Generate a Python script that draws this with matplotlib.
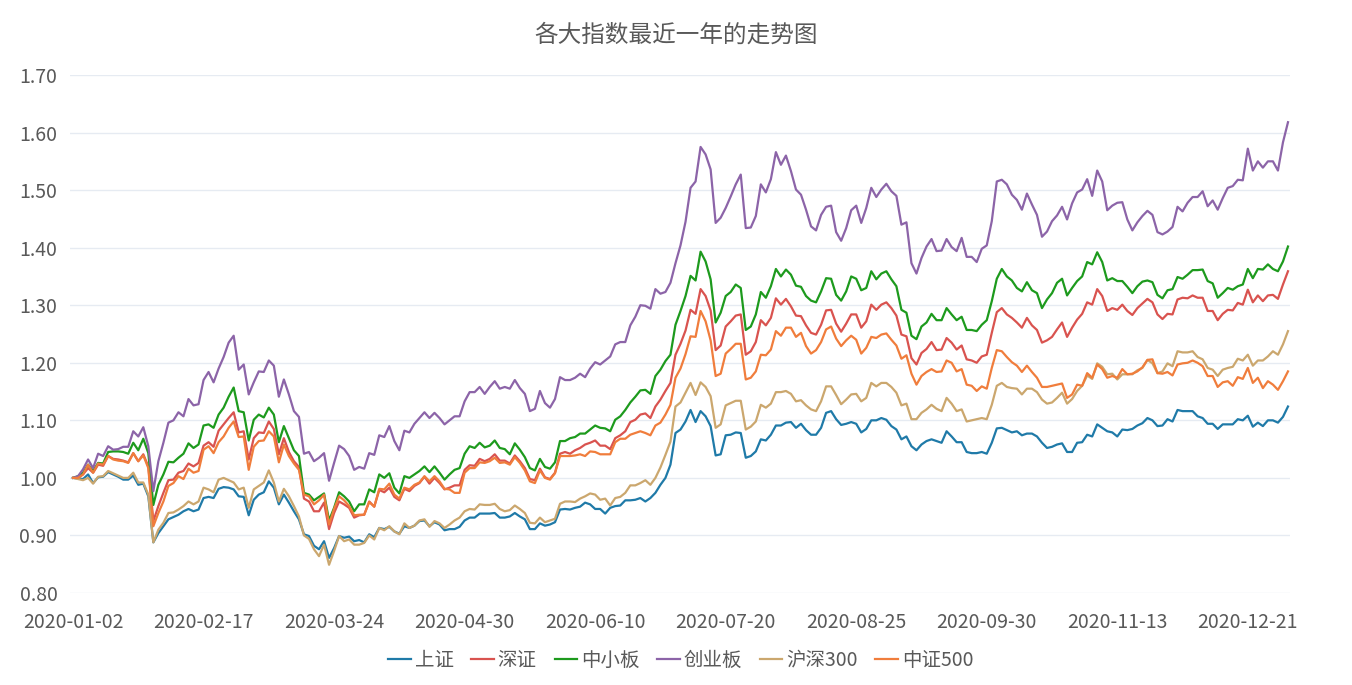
import numpy as np
import matplotlib
matplotlib.use("Agg")
import matplotlib.pyplot as plt

plt.rcParams["font.family"] = ["Noto Sans CJK SC", "DejaVu Sans"]

# normalised closing values, one per trading day of 2020
shangzheng = [
    1.000, 0.999, 0.998, 1.006, 0.991, 1.001, 1.002, 1.010, 1.006, 1.002, 0.997, 0.997, 1.004, 0.988, 0.990, 0.968, 0.888, 0.904, 0.916, 0.928, 0.932, 0.936, 0.942, 0.946, 0.942, 0.945, 0.965, 0.967, 0.965, 0.981,
    0.984, 0.983, 0.980, 0.968, 0.967, 0.935, 0.962, 0.971, 0.975, 0.994, 0.983, 0.954, 0.971, 0.957, 0.942, 0.928, 0.902, 0.899, 0.882, 0.876, 0.890, 0.861, 0.878, 0.899, 0.896, 0.898, 0.890, 0.892, 0.888, 0.902, 0.897,
    0.913, 0.911, 0.915, 0.907, 0.903, 0.916, 0.913, 0.917, 0.925, 0.926, 0.916, 0.923, 0.919, 0.909, 0.911, 0.911, 0.915, 0.926, 0.931, 0.931, 0.938, 0.938, 0.938, 0.939, 0.931, 0.931, 0.933, 0.939, 0.933,
    0.928,
    0.911, 0.911, 0.921, 0.917, 0.919, 0.923, 0.945, 0.946, 0.945, 0.948, 0.950, 0.957,
    0.954, 0.946, 0.946, 0.938, 0.948, 0.951, 0.952, 0.961, 0.961, 0.962, 0.965, 0.959, 0.965, 0.974, 0.988,
    1.000, 1.023, 1.078, 1.084, 1.098, 1.118, 1.097, 1.116,
    1.107, 1.090, 1.039, 1.041, 1.074, 1.075, 1.079, 1.078, 1.035, 1.038, 1.046, 1.067, 1.065, 1.075, 1.091, 1.091, 1.096, 1.097, 1.087, 1.094, 1.083, 1.075, 1.075, 1.087, 1.113, 1.116, 1.102, 1.092,
    1.094, 1.097, 1.094, 1.079, 1.085, 1.100, 1.100, 1.104, 1.101, 1.090, 1.084, 1.067, 1.072, 1.055, 1.048, 1.058, 1.064, 1.067, 1.064, 1.061, 1.081, 1.072, 1.062, 1.062, 1.045, 1.043, 1.043, 1.045, 1.042,
    1.061, 1.086,
    1.087, 1.083, 1.079, 1.081, 1.074, 1.077, 1.077, 1.072, 1.061, 1.052, 1.054, 1.058, 1.060, 1.045, 1.045, 1.061, 1.062, 1.075, 1.072, 1.093, 1.087, 1.081, 1.079, 1.072, 1.084, 1.083, 1.085, 1.091, 1.095, 1.104,
    1.100, 1.090, 1.091, 1.102, 1.098, 1.118, 1.116, 1.116, 1.116, 1.107, 1.104, 1.094, 1.094, 1.085, 1.093, 1.093, 1.093, 1.102, 1.100, 1.108, 1.089, 1.096, 1.090, 1.100, 1.100, 1.096, 1.106, 1.124,
]

shenzheng = [
    1.000, 1.000, 1.006, 1.017, 1.009, 1.023, 1.021, 1.038, 1.033, 1.032, 1.030, 1.027, 1.043, 1.029, 1.041, 1.020, 0.925, 0.951, 0.974, 0.996, 0.997, 1.009, 1.012, 1.025, 1.020, 1.026, 1.056, 1.062, 1.054, 1.082,
    1.093, 1.104, 1.114, 1.079, 1.081, 1.032, 1.069, 1.079, 1.078, 1.098, 1.085, 1.041, 1.069, 1.045, 1.029, 1.019, 0.964, 0.959, 0.942, 0.942, 0.957, 0.911, 0.939, 0.959, 0.954, 0.948, 0.931, 0.935, 0.936, 0.959, 0.950,
    0.979, 0.975, 0.983, 0.967, 0.961, 0.981, 0.977, 0.986, 0.991, 1.002, 0.990, 1.000, 0.991, 0.980, 0.983, 0.987, 0.987, 1.014, 1.022, 1.021, 1.033, 1.029, 1.033, 1.041, 1.030, 1.030, 1.025, 1.039, 1.029,
    1.017,
    0.998, 0.996, 1.016, 1.001, 0.998, 1.009, 1.042, 1.045, 1.042, 1.048, 1.052, 1.058,
    1.061, 1.065, 1.056, 1.056, 1.050, 1.069, 1.074, 1.081, 1.097, 1.101, 1.110, 1.112, 1.104, 1.124, 1.136, 1.151, 1.165, 1.214, 1.233, 1.256, 1.292, 1.285, 1.328,
    1.316, 1.291, 1.222, 1.230, 1.263, 1.272, 1.282, 1.284, 1.214, 1.220, 1.236, 1.274, 1.265, 1.278, 1.312, 1.301, 1.311, 1.298, 1.282, 1.281, 1.265, 1.252, 1.249, 1.266, 1.291, 1.292, 1.268, 1.254,
    1.268, 1.284, 1.284, 1.261, 1.272, 1.301, 1.292, 1.301, 1.305, 1.295, 1.282, 1.249, 1.246, 1.208, 1.197, 1.217, 1.224, 1.236, 1.222, 1.223, 1.243, 1.235, 1.223, 1.230, 1.206, 1.204, 1.200, 1.211, 1.214,
    1.252, 1.288,
    1.295, 1.284, 1.278, 1.270, 1.261, 1.278, 1.265, 1.257, 1.235, 1.239, 1.245, 1.258, 1.270, 1.245, 1.261, 1.275, 1.285, 1.305, 1.301, 1.328, 1.316, 1.290, 1.295, 1.292, 1.301, 1.290, 1.283, 1.295, 1.303, 1.311,
    1.305, 1.284, 1.276, 1.285, 1.284, 1.310, 1.313, 1.312, 1.317, 1.313, 1.313, 1.290, 1.290, 1.274, 1.285, 1.292, 1.291, 1.304, 1.301, 1.327, 1.305, 1.317, 1.307, 1.317, 1.318, 1.311, 1.336, 1.359,
]

zhongxiaoban = [
    1.000, 1.003, 1.009, 1.023, 1.012, 1.026, 1.025, 1.045, 1.046, 1.046, 1.045, 1.042, 1.061, 1.048, 1.068, 1.043, 0.953, 0.988, 1.006, 1.028, 1.027, 1.035, 1.042, 1.060, 1.052, 1.058, 1.091, 1.093, 1.087, 1.110,
    1.122, 1.141, 1.157, 1.116, 1.114, 1.065, 1.101, 1.110, 1.105, 1.122, 1.110, 1.062, 1.090, 1.069, 1.048, 1.038, 0.974, 0.971, 0.961, 0.967, 0.973, 0.926, 0.948, 0.975, 0.968, 0.959, 0.942, 0.954, 0.954, 0.980, 0.975,
    1.006, 1.000, 1.008, 0.983, 0.973, 1.003, 1.000, 1.006, 1.012, 1.020, 1.010, 1.020, 1.009, 0.997, 1.006, 1.014, 1.017, 1.042, 1.055, 1.052, 1.061, 1.053, 1.056, 1.065, 1.052, 1.050, 1.041, 1.060, 1.049,
    1.036,
    1.017, 1.013, 1.033, 1.019, 1.016, 1.027, 1.064, 1.064, 1.069, 1.071, 1.077, 1.077,
    1.084, 1.091, 1.087, 1.086, 1.081, 1.101, 1.107, 1.118, 1.131, 1.141, 1.152, 1.153, 1.146, 1.177, 1.188, 1.203, 1.214, 1.266, 1.290, 1.316, 1.351, 1.343, 1.393,
    1.376, 1.345, 1.270, 1.287, 1.316, 1.323, 1.336, 1.330, 1.257, 1.263, 1.284, 1.323, 1.313, 1.333, 1.363, 1.350, 1.362, 1.353, 1.334, 1.332, 1.316, 1.308, 1.305, 1.324, 1.347, 1.346, 1.318, 1.308,
    1.324, 1.350, 1.346, 1.326, 1.330, 1.359, 1.345, 1.355, 1.359, 1.345, 1.333, 1.292, 1.287, 1.247, 1.241, 1.263, 1.270, 1.285, 1.274, 1.274, 1.295, 1.284, 1.274, 1.280, 1.257, 1.257, 1.255, 1.266, 1.274,
    1.307, 1.346,
    1.363, 1.350, 1.343, 1.330, 1.324, 1.340, 1.326, 1.321, 1.295, 1.310, 1.321, 1.339, 1.346, 1.317, 1.330, 1.342, 1.350, 1.375, 1.371, 1.392, 1.375, 1.343, 1.347, 1.342, 1.342, 1.332, 1.321, 1.333, 1.341, 1.343,
    1.340, 1.318, 1.312, 1.326, 1.328, 1.349, 1.346, 1.353, 1.361, 1.361, 1.362, 1.342, 1.338, 1.313, 1.321, 1.330, 1.327, 1.333, 1.336, 1.363, 1.347, 1.363, 1.362, 1.371, 1.363, 1.359, 1.376, 1.402,
]

chuangyeban = [
    1.000, 1.003, 1.015, 1.032, 1.017, 1.042, 1.038, 1.055, 1.049, 1.050, 1.054, 1.054, 1.081, 1.072, 1.088, 1.055, 0.977, 1.029, 1.061, 1.096, 1.100, 1.114, 1.107, 1.137, 1.126, 1.128, 1.170, 1.184, 1.166, 1.190,
    1.210, 1.235, 1.247, 1.188, 1.197, 1.145, 1.166, 1.185, 1.184, 1.204, 1.195, 1.141, 1.171, 1.145, 1.116, 1.106, 1.042, 1.045, 1.029, 1.035, 1.043, 0.995, 1.026, 1.056, 1.050, 1.038, 1.014, 1.019, 1.016, 1.043, 1.040,
    1.074, 1.071, 1.090, 1.064, 1.048, 1.082, 1.079, 1.094, 1.104, 1.114, 1.104, 1.113, 1.104, 1.093, 1.100, 1.107, 1.107, 1.133, 1.149, 1.149, 1.158, 1.146, 1.158, 1.168, 1.155, 1.158, 1.155, 1.170, 1.156,
    1.146,
    1.116, 1.120, 1.151, 1.130, 1.122, 1.137, 1.175, 1.170, 1.170, 1.174, 1.181, 1.175,
    1.190, 1.201, 1.197, 1.204, 1.211, 1.232, 1.236, 1.236, 1.265, 1.280, 1.300, 1.299, 1.294, 1.328, 1.320, 1.323, 1.339, 1.373, 1.404, 1.445, 1.504, 1.515, 1.575,
    1.562, 1.536, 1.443, 1.452, 1.469, 1.489, 1.510, 1.527, 1.434, 1.435, 1.455, 1.510, 1.496, 1.519, 1.566, 1.544, 1.560, 1.533, 1.501, 1.492, 1.466, 1.437, 1.430, 1.457, 1.471, 1.473, 1.427, 1.412,
    1.434, 1.465, 1.473, 1.443, 1.469, 1.504, 1.488, 1.501, 1.511, 1.498, 1.490, 1.440, 1.444, 1.373, 1.355, 1.382, 1.402, 1.415, 1.394, 1.395, 1.415, 1.401, 1.394, 1.417, 1.384, 1.384, 1.375, 1.398, 1.404,
    1.446, 1.515,
    1.518, 1.510, 1.492, 1.483, 1.466, 1.494, 1.475, 1.457, 1.419, 1.428, 1.446, 1.456, 1.471, 1.449, 1.477, 1.496, 1.501, 1.519, 1.490, 1.534, 1.515, 1.465, 1.473, 1.478, 1.479, 1.449, 1.430, 1.444, 1.455, 1.464,
    1.457, 1.427, 1.423, 1.428, 1.436, 1.471, 1.463, 1.478, 1.488, 1.488, 1.498, 1.472, 1.482, 1.466, 1.486, 1.504, 1.507, 1.518, 1.517, 1.572, 1.534, 1.550, 1.539, 1.550, 1.550, 1.534, 1.583, 1.618,
]

hs300 = [
    1.000, 0.998, 0.996, 1.000, 0.990, 1.002, 1.003, 1.012, 1.008, 1.004, 1.000, 1.000, 1.009, 0.992, 0.992, 0.971, 0.888, 0.910, 0.922, 0.939, 0.940, 0.945, 0.951, 0.959, 0.954, 0.959, 0.983, 0.980, 0.975, 0.997,
    1.000, 0.996, 0.992, 0.980, 0.983, 0.948, 0.980, 0.986, 0.992, 1.013, 0.992, 0.959, 0.981, 0.968, 0.951, 0.933, 0.900, 0.894, 0.876, 0.864, 0.884, 0.849, 0.873, 0.899, 0.890, 0.893, 0.884, 0.884, 0.887, 0.900, 0.893,
    0.913, 0.909, 0.916, 0.907, 0.902, 0.921, 0.913, 0.917, 0.926, 0.928, 0.915, 0.925, 0.921, 0.913, 0.919, 0.926, 0.931, 0.942, 0.946, 0.945, 0.954, 0.953, 0.953, 0.955, 0.946, 0.942, 0.944, 0.952, 0.946,
    0.939,
    0.922, 0.921, 0.931, 0.923, 0.926, 0.929, 0.955, 0.959, 0.959, 0.958, 0.964, 0.968,
    0.973, 0.971, 0.962, 0.964, 0.952, 0.965, 0.967, 0.974, 0.987, 0.987, 0.991, 0.996, 0.988,
    1.000, 1.018, 1.040, 1.063, 1.124, 1.131, 1.148, 1.165, 1.144, 1.166,
    1.158, 1.142, 1.087, 1.093, 1.126, 1.130, 1.134, 1.134, 1.084, 1.089, 1.098, 1.127, 1.122, 1.129, 1.149, 1.149, 1.151, 1.146, 1.133, 1.135, 1.126, 1.119, 1.116, 1.133, 1.159, 1.159, 1.144, 1.128,
    1.136, 1.145, 1.146, 1.133, 1.139, 1.165, 1.159, 1.165, 1.165, 1.158, 1.148, 1.126, 1.129, 1.102, 1.102, 1.113, 1.119, 1.127, 1.120, 1.116, 1.139, 1.129, 1.116, 1.119, 1.098, 1.100, 1.102, 1.104, 1.102,
    1.127, 1.160,
    1.165, 1.158, 1.156, 1.155, 1.145, 1.155, 1.155, 1.149, 1.136, 1.129, 1.131, 1.139, 1.148, 1.129, 1.137, 1.151, 1.160, 1.178, 1.172, 1.199, 1.193, 1.180, 1.181, 1.171, 1.180, 1.180, 1.180, 1.187, 1.191, 1.205,
    1.199, 1.182, 1.185, 1.199, 1.194, 1.220, 1.218, 1.218, 1.220, 1.210, 1.206, 1.191, 1.188, 1.177, 1.188, 1.191, 1.193, 1.207, 1.204, 1.214, 1.195, 1.204, 1.204, 1.211, 1.220, 1.214, 1.232, 1.255,
]

zz500 = [
    1.000, 1.000, 1.006, 1.023, 1.009, 1.025, 1.023, 1.038, 1.032, 1.030, 1.029, 1.026, 1.043, 1.029, 1.039, 1.017, 0.916, 0.939, 0.959, 0.986, 0.991, 1.003, 0.998, 1.016, 1.009, 1.012, 1.049, 1.055, 1.043, 1.062,
    1.072, 1.087, 1.098, 1.071, 1.072, 1.014, 1.054, 1.064, 1.065, 1.081, 1.072, 1.027, 1.058, 1.038, 1.025, 1.014, 0.971, 0.968, 0.954, 0.961, 0.971, 0.919, 0.946, 0.968, 0.961, 0.951, 0.935, 0.936, 0.936, 0.958, 0.950,
    0.981, 0.980, 0.990, 0.971, 0.964, 0.983, 0.980, 0.988, 0.992, 1.003, 0.994, 1.003, 0.994, 0.981, 0.980, 0.974, 0.974, 1.009, 1.017, 1.017, 1.027, 1.026, 1.029, 1.035, 1.026, 1.027, 1.023, 1.036, 1.026,
    1.013,
    0.994, 0.991, 1.013, 1.000, 0.997, 1.008, 1.038, 1.038, 1.038, 1.039, 1.041, 1.038,
    1.046, 1.045, 1.041, 1.041, 1.041, 1.062, 1.068, 1.068, 1.075, 1.078, 1.081, 1.078, 1.074, 1.091, 1.096, 1.110, 1.127, 1.174, 1.190, 1.215, 1.246, 1.245, 1.290,
    1.272, 1.239, 1.177, 1.181, 1.216, 1.224, 1.233, 1.233, 1.171, 1.174, 1.185, 1.214, 1.213, 1.223, 1.255, 1.247, 1.261, 1.261, 1.245, 1.252, 1.229, 1.216, 1.222, 1.236, 1.258, 1.263, 1.242, 1.229,
    1.239, 1.247, 1.240, 1.216, 1.226, 1.245, 1.243, 1.249, 1.251, 1.240, 1.230, 1.207, 1.213, 1.181, 1.162, 1.177, 1.184, 1.189, 1.184, 1.185, 1.204, 1.200, 1.185, 1.189, 1.162, 1.160, 1.151, 1.159, 1.155,
    1.191, 1.222,
    1.220, 1.210, 1.201, 1.195, 1.184, 1.195, 1.184, 1.174, 1.158, 1.158, 1.160, 1.162, 1.164, 1.139, 1.145, 1.162, 1.160, 1.182, 1.174, 1.197, 1.189, 1.174, 1.177, 1.174, 1.189, 1.180, 1.181, 1.185, 1.192, 1.205,
    1.206, 1.182, 1.181, 1.184, 1.178, 1.197, 1.199, 1.200, 1.204, 1.200, 1.194, 1.177, 1.177, 1.158, 1.166, 1.168, 1.160, 1.175, 1.172, 1.191, 1.165, 1.174, 1.156, 1.168, 1.162, 1.153, 1.168, 1.185,
]

names = ["上证", "深证", "中小板", "创业板", "沪深300", "中证500"]
colors = ["#1f7aa8", "#d9534f", "#1d9a1d", "#8c64a8", "#cba76e", "#f07d3c"]
date_labels = ["2020-01-02", "2020-02-17", "2020-03-24", "2020-04-30", "2020-06-10",
               "2020-07-20", "2020-08-25", "2020-09-30", "2020-11-13", "2020-12-21"]
label_every = 26

series = [shangzheng, shenzheng, zhongxiaoban, chuangyeban, hs300, zz500]

W, H = 1352, 685
fig = plt.figure(figsize=(W / 100, H / 100), dpi=100)
ax = fig.add_axes([70 / W, (H - 593) / H, 1220 / W, 518 / H])

for vals, name, c in zip(series, names, colors):
    ax.plot(np.arange(len(vals)), vals, color=c, linewidth=1.6, label=name,
            solid_joinstyle="round")

n = len(shangzheng)
ax.set_xlim(-0.6, n - 1 + 0.4)
ax.set_ylim(0.8, 1.7)
ax.set_yticks(np.arange(0.8, 1.701, 0.1))
ax.yaxis.set_major_formatter(plt.FormatStrFormatter("%.2f"))
ax.set_xticks(np.arange(len(date_labels)) * label_every)
ax.set_xticklabels(date_labels)

ax.tick_params(axis="both", length=0, labelsize=14, colors="#595959")
ax.tick_params(axis="y", pad=9)
ax.tick_params(axis="x", pad=14)
ax.grid(axis="y", color="#e6ebf2", linewidth=1)
ax.set_axisbelow(True)
for s in ax.spines.values():
    s.set_visible(False)

fig.text(0.5, 1 - 35 / H, "各大指数最近一年的走势图", ha="center", va="center",
         fontsize=17, color="#595959")

fig.legend(loc="center", bbox_to_anchor=(0.5035, 1 - 660 / H), ncol=6, frameon=False,
           fontsize=14, labelcolor="#595959", handlelength=1.15, handletextpad=0.2,
           columnspacing=0.92)

fig.savefig("out.png", dpi=100)
